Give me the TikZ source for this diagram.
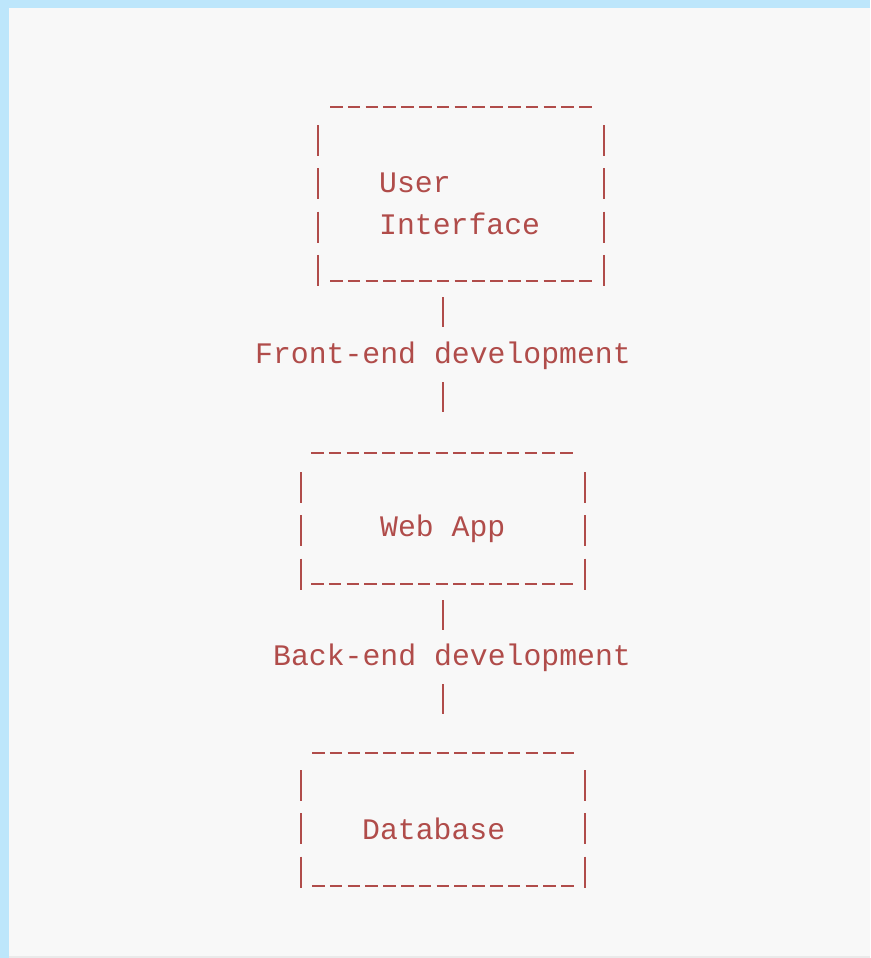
\documentclass[tikz,border=0pt]{standalone}
\usepackage{fontspec}
\setmonofont{Liberation Mono}
\definecolor{asciired}{RGB}{176,76,74}
\definecolor{pagegray}{RGB}{248,248,248}
\definecolor{frameblue}{RGB}{189,230,251}
\definecolor{edgegray}{RGB}{234,234,234}
\tikzset{
  lbl/.style={text=asciired, font=\ttfamily\fontsize{29.8}{36}\selectfont, anchor=base west, inner sep=0pt},
  hrule/.style={draw=asciired, line width=2.7pt, dash pattern=on 12.5pt off 5.3pt},
  vrule/.style={draw=asciired, line width=2.4pt, dash pattern=on 31pt off 12.3pt},
}
\begin{document}
\begin{tikzpicture}[x=1pt,y=-1pt]
\fill[frameblue] (0,0) rectangle (870,958);
\fill[pagegray] (9,8) rectangle (870,958);
\fill[edgegray] (9,956) rectangle (870,958);
\useasboundingbox (0,0) rectangle (870,958);

% user interface box
\draw[hrule] (330,107) -- (593,107);
\draw[vrule] (318,125) -- (318,287);
\draw[vrule] (604,125) -- (604,287);
\draw[hrule] (330,281) -- (593,281);
\node[lbl] (user) at (379,192) {User};
\node[lbl] (iface) at (379,234) {Interface};

% front-end link
\node[lbl] (fe) at (255,363) {Front-end development};
\coordinate (uibottom) at (443,297);
\coordinate (apptop) at (443,412);
\draw[vrule, dash pattern=on 30pt off 55pt] (uibottom) -- (apptop);

% web app box
\draw[hrule] (311,453) -- (576,453);
\draw[vrule] (301,472) -- (301,590);
\draw[vrule] (585,472) -- (585,590);
\draw[hrule] (311,584) -- (576,584);
\node[lbl] (app) at (380,536) {Web App};

% back-end link
\node[lbl] (be) at (273,665) {Back-end development};
\coordinate (appbottom) at (443,600);
\coordinate (dbtop) at (443,714);
\draw[vrule, dash pattern=on 30pt off 54pt] (appbottom) -- (dbtop);

% database box
\draw[hrule] (312,753) -- (576,753);
\draw[vrule] (301,770) -- (301,890);
\draw[vrule] (585,770) -- (585,890);
\draw[hrule] (312,886) -- (576,886);
\node[lbl] (db) at (362,839) {Database};
\end{tikzpicture}
\end{document}
